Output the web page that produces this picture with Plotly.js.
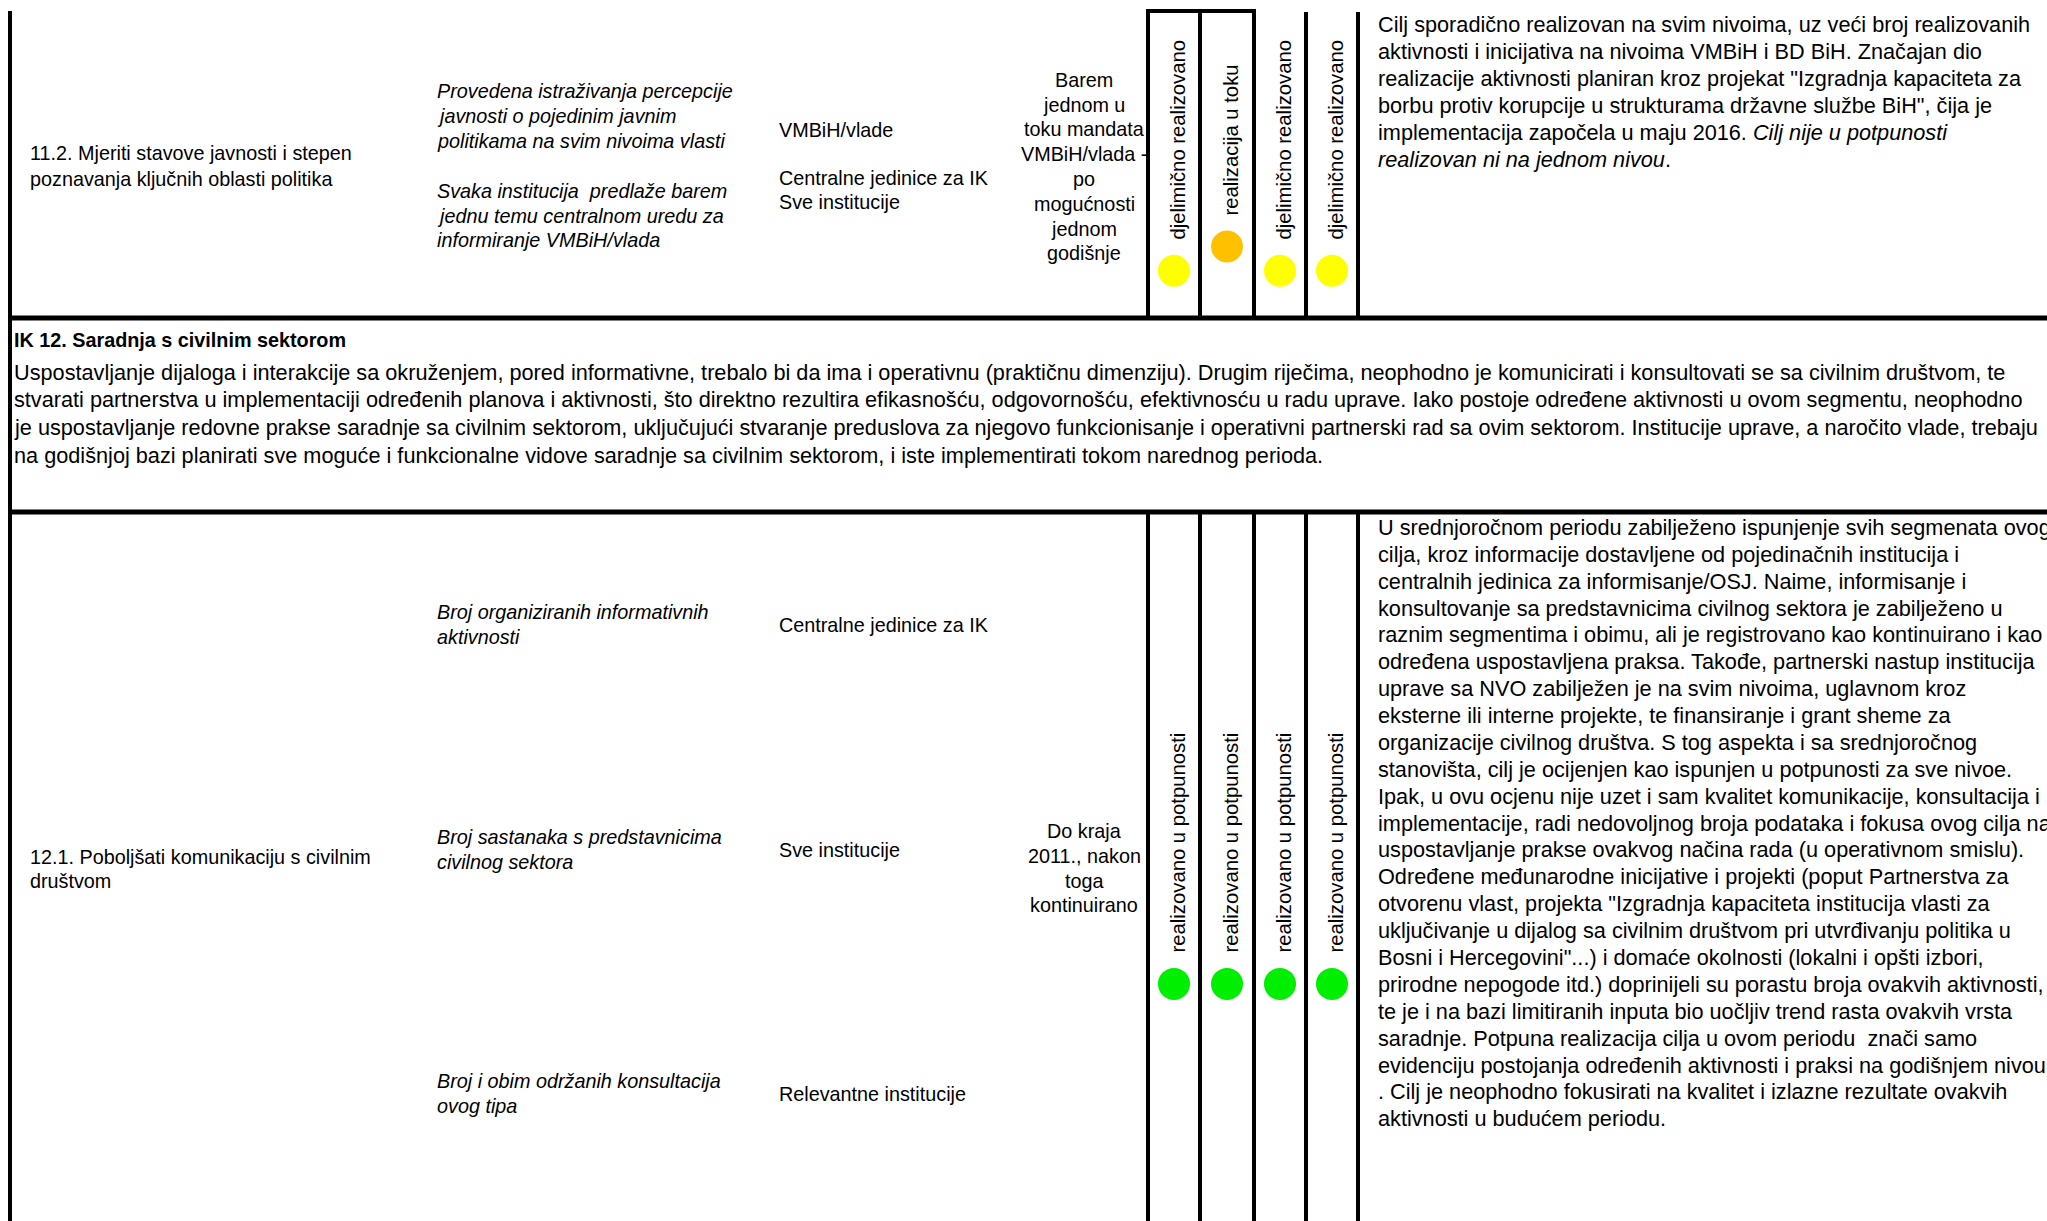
<!DOCTYPE html>
<html>
<head>
<meta charset="utf-8">
<script src="https://cdn.plot.ly/plotly-3.0.1.min.js"></script>
<style>
  html, body { margin: 0; padding: 0; background: #ffffff; overflow: hidden; }
  #chart { width: 2047px; height: 1221px; }
</style>
</head>
<body>
<div id="chart"></div>
<script>
// ---------------- DATA ----------------
const objective1 = ["11.2. Mjeriti stavove javnosti i stepen", "poznavanja ključnih oblasti politika"];
const indicators1 = [
  ["Provedena istraživanja percepcije", "javnosti o pojedinim javnim", "politikama na svim nivoima vlasti"],
  ["Svaka institucija  predlaže barem", "jednu temu centralnom uredu za", "informiranje VMBiH/vlada"]
];
const responsible1 = [["VMBiH/vlade"], ["Centralne jedinice za IK", "Sve institucije"]];
const deadline1 = ["Barem", "jednom u", "toku mandata", "VMBiH/vlada -", "po", "mogućnosti", "jednom", "godišnje"];
const status1 = ["djelimično realizovano", "realizacija u toku", "djelimično realizovano", "djelimično realizovano"];
const comment1 = [
  "Cilj sporadično realizovan na svim nivoima, uz veći broj realizovanih",
  "aktivnosti i inicijativa na nivoima VMBiH i BD BiH. Značajan dio",
  "realizacije aktivnosti planiran kroz projekat \"Izgradnja kapaciteta za",
  "borbu protiv korupcije u strukturama državne službe BiH\", čija je",
  "implementacija započela u maju 2016. <i>Cilj nije u potpunosti</i>",
  "<i>realizovan ni na jednom nivou</i>."
];

const sectionTitle = "IK 12. Saradnja s civilnim sektorom";
const sectionText = [
  "Uspostavljanje dijaloga i interakcije sa okruženjem, pored informativne, trebalo bi da ima i operativnu (praktičnu dimenziju). Drugim riječima, neophodno je komunicirati i konsultovati se sa civilnim društvom, te",
  "stvarati partnerstva u implementaciji određenih planova i aktivnosti, što direktno rezultira efikasnošću, odgovornošću, efektivnosću u radu uprave. Iako postoje određene aktivnosti u ovom segmentu, neophodno",
  "je uspostavljanje redovne prakse saradnje sa civilnim sektorom, uključujući stvaranje preduslova za njegovo funkcionisanje i operativni partnerski rad sa ovim sektorom. Institucije uprave, a naročito vlade, trebaju",
  "na godišnjoj bazi planirati sve moguće i funkcionalne vidove saradnje sa civilnim sektorom, i iste implementirati tokom narednog perioda."
];

const objective2 = ["12.1. Poboljšati komunikaciju s civilnim", "društvom"];
const indicators2 = [
  ["Broj organiziranih informativnih", "aktivnosti"],
  ["Broj sastanaka s predstavnicima", "civilnog sektora"],
  ["Broj i obim održanih konsultacija", "ovog tipa"]
];
const responsible2 = [["Centralne jedinice za IK"], ["Sve institucije"], ["Relevantne institucije"]];
const deadline2 = ["Do kraja", "2011., nakon", "toga", "kontinuirano"];
const status2 = ["realizovano u potpunosti", "realizovano u potpunosti", "realizovano u potpunosti", "realizovano u potpunosti"];
const comment2 = [
  "U srednjoročnom periodu zabilježeno ispunjenje svih segmenata ovog",
  "cilja, kroz informacije dostavljene od pojedinačnih institucija i",
  "centralnih jedinica za informisanje/OSJ. Naime, informisanje i",
  "konsultovanje sa predstavnicima civilnog sektora je zabilježeno u",
  "raznim segmentima i obimu, ali je registrovano kao kontinuirano i kao",
  "određena uspostavljena praksa. Takođe, partnerski nastup institucija",
  "uprave sa NVO zabilježen je na svim nivoima, uglavnom kroz",
  "eksterne ili interne projekte, te finansiranje i grant sheme za",
  "organizacije civilnog društva. S tog aspekta i sa srednjoročnog",
  "stanovišta, cilj je ocijenjen kao ispunjen u potpunosti za sve nivoe.",
  "Ipak, u ovu ocjenu nije uzet i sam kvalitet komunikacije, konsultacija i",
  "implementacije, radi nedovoljnog broja podataka i fokusa ovog cilja na",
  "uspostavljanje prakse ovakvog načina rada (u operativnom smislu).",
  "Određene međunarodne inicijative i projekti (poput Partnerstva za",
  "otvorenu vlast, projekta \"Izgradnja kapaciteta institucija vlasti za",
  "uključivanje u dijalog sa civilnim društvom pri utvrđivanju politika u",
  "Bosni i Hercegovini\"...) i domaće okolnosti (lokalni i opšti izbori,",
  "prirodne nepogode itd.) doprinijeli su porastu broja ovakvih aktivnosti,",
  "te je i na bazi limitiranih inputa bio uočljiv trend rasta ovakvih vrsta",
  "saradnje. Potpuna realizacija cilja u ovom periodu  znači samo",
  "evidenciju postojanja određenih aktivnosti i praksi na godišnjem nivou",
  ". Cilj je neophodno fokusirati na kvalitet i izlazne rezultate ovakvih",
  "aktivnosti u budućem periodu."
];

const statusColors = {
  "djelimično realizovano": "#ffff00",
  "realizacija u toku": "#ffc000",
  "realizovano u potpunosti": "#00ee00"
};

// ---------------- LAYOUT GEOMETRY ----------------
const W = 2047, H = 1221;
const FONT = "Liberation Sans, Arial, sans-serif";
const cellSize = 19.8, cellGap = 24.8;
const commentSize = 21.7, commentGap = 27;
const paraSize = 21.7, paraGap = 27.9;
const rotSize = 20.3;
const statusLines = [1148, 1200, 1254, 1306, 1358];
const rowBreaks = [318, 512];
const colX = { c1: 29, c2: 436, c3: 778, c4: 1084, comment: 1377, section: 13 };

const annotations = [];
const shapes = [];

function block(lines, x, yCenter, gap, opts) {
  const n = lines.length;
  lines.forEach((t, i) => {
    annotations.push(Object.assign({
      x: x, y: yCenter + (i - (n - 1) / 2) * gap, xref: 'x', yref: 'y',
      text: t, showarrow: false, xanchor: 'left', yanchor: 'middle',
      borderpad: 0, font: { family: FONT, size: cellSize, color: '#000' }
    }, opts || {}));
  });
}
function blockTop(lines, x, yFirst, gap, opts) {
  lines.forEach((t, i) => {
    annotations.push(Object.assign({
      x: x, y: yFirst + i * gap, xref: 'x', yref: 'y',
      text: t, showarrow: false, xanchor: 'left', yanchor: 'middle',
      borderpad: 0, font: { family: FONT, size: cellSize, color: '#000' }
    }, opts || {}));
  });
}

// Row 1
block(objective1, colX.c1, 166, 26);
block(indicators1[0].map(s => '<i>' + s + '</i>'), colX.c2, 116, cellGap);
block(indicators1[1].map(s => '<i>' + s + '</i>'), colX.c2, 215.5, cellGap);
block(responsible1[0], colX.c3, 129.5, cellGap);
block(responsible1[1], colX.c3, 190, cellGap);
block(deadline1, colX.c4, 166.5, cellGap, { xanchor: 'center' });
blockTop(comment1, colX.comment, 24, commentGap, { font: { family: FONT, size: commentSize, color: '#000' } });

// Section
annotations.push({ x: colX.section, y: 339.5, xref: 'x', yref: 'y', text: '<b>' + sectionTitle + '</b>',
  showarrow: false, xanchor: 'left', yanchor: 'middle', borderpad: 0,
  font: { family: FONT, size: cellSize, color: '#000' } });
blockTop(sectionText, colX.section, 372, paraGap, { font: { family: FONT, size: paraSize, color: '#000' } });

// Row 2
block(objective2, colX.c1, 869, cellGap);
block(indicators2[0].map(s => '<i>' + s + '</i>'), colX.c2, 624.7, cellGap);
block(indicators2[1].map(s => '<i>' + s + '</i>'), colX.c2, 849.2, cellGap);
block(indicators2[2].map(s => '<i>' + s + '</i>'), colX.c2, 1093.4, cellGap);
block(responsible2[0], colX.c3, 625.3, cellGap);
block(responsible2[1], colX.c3, 850, cellGap);
block(responsible2[2], colX.c3, 1094, cellGap);
block(deadline2, colX.c4, 868.2, cellGap, { xanchor: 'center' });
blockTop(comment2, colX.comment, 527.4, 26.88, { font: { family: FONT, size: commentSize, color: '#000' } });

// Status labels (rotated) and markers
const ctx = document.createElement('canvas').getContext('2d');
ctx.font = rotSize + 'px "Liberation Sans", Arial, sans-serif';
const colCenters = statusLines.slice(0, 4).map((v, i) => (v + statusLines[i + 1]) / 2);
const markerX = [], markerY = [], markerC = [];
function statusRow(statuses, yCenter) {
  statuses.forEach((s, i) => {
    annotations.push({ x: colCenters[i] + 3.5, y: yCenter, xref: 'x', yref: 'y', text: s,
      textangle: -90, showarrow: false, xanchor: 'center', yanchor: 'middle', borderpad: 0,
      font: { family: FONT, size: rotSize, color: '#000' } });
    const len = ctx.measureText(s).width;
    markerX.push(colCenters[i]);
    markerY.push(yCenter + len / 2 + 31);
    markerC.push(statusColors[s]);
  });
}
statusRow(status1, 140);
statusRow(status2, 843);

// Grid lines
const lineBlack = (w) => ({ color: '#000', width: w });
shapes.push({ type: 'line', xref: 'x', yref: 'y', x0: 10, x1: 10, y0: 11, y1: H, line: lineBlack(4) });
rowBreaks.forEach(y => shapes.push({ type: 'line', xref: 'x', yref: 'y', x0: 8, x1: W, y0: y, y1: y, line: lineBlack(5) }));
statusLines.forEach((x, i) => {
  shapes.push({ type: 'line', xref: 'x', yref: 'y', x0: x, x1: x, y0: i < 3 ? 9 : 12, y1: rowBreaks[0], line: lineBlack(4) });
  shapes.push({ type: 'line', xref: 'x', yref: 'y', x0: x, x1: x, y0: rowBreaks[1], y1: H, line: lineBlack(4) });
});
shapes.push({ type: 'line', xref: 'x', yref: 'y', x0: statusLines[0] - 2, x1: statusLines[2] + 2, y0: 11, y1: 11, line: lineBlack(4) });

const trace = {
  type: 'scatter', mode: 'markers', x: markerX, y: markerY, cliponaxis: false,
  hoverinfo: 'skip', showlegend: false,
  marker: { size: 32, color: markerC, line: { width: 0 } }
};

const layout = {
  width: W, height: H,
  margin: { l: 0, r: 0, t: 0, b: 0, pad: 0 },
  paper_bgcolor: '#ffffff', plot_bgcolor: '#ffffff',
  xaxis: { range: [0, W], visible: false, fixedrange: true },
  yaxis: { range: [H, 0], visible: false, fixedrange: true },
  showlegend: false,
  shapes: shapes,
  annotations: annotations,
  font: { family: FONT }
};

Plotly.newPlot('chart', [trace], layout, { displayModeBar: false, staticPlot: true });
</script>
</body>
</html>
